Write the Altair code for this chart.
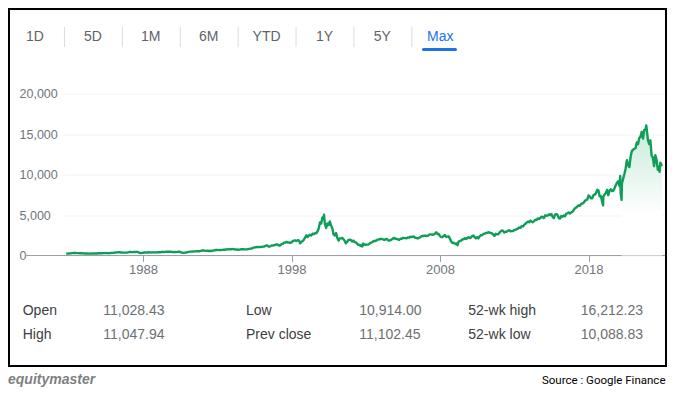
import altair as alt
import pandas as pd

# ---- data (approx. monthly levels of the index) ----
v1980s = [240, 232,
          248, 260, 270, 293, 308, 318, 303, 292, 296, 276, 285, 279,
          268, 250, 250, 247, 232, 239, 230, 255, 250, 247, 242, 247,
          278, 285, 279, 280, 290, 296, 301, 298, 280, 292, 313, 325,
          335, 359, 375, 383, 400, 405, 371, 381, 350, 361, 360, 349,
          392, 425, 430, 418, 416, 424, 434, 454, 444, 323, 305, 330,
          345, 367, 374, 379, 371, 395, 387, 376, 387, 382, 371, 381,
          401, 399, 406, 428, 446, 435, 453, 469, 472, 455, 455, 454]
v1990s = [416, 425, 435, 420, 458, 462, 438, 381, 344, 329, 359, 374,
          414, 453, 482, 484, 506, 475, 502, 525, 527, 542, 523, 586,
          620, 633, 603, 578, 585, 563, 580, 563, 583, 605, 652, 677,
          696, 670, 690, 661, 700, 704, 705, 743, 763, 779, 754, 777,
          800, 793, 744, 733, 735, 706, 722, 765, 764, 777, 750, 752,
          756, 793, 817, 843, 865, 933, 1001, 1020, 1044, 1036, 1059, 1052,
          1060, 1100, 1101, 1191, 1243, 1185, 1081, 1142, 1227, 1222, 1293, 1291,
          1380, 1309, 1222, 1261, 1400, 1442, 1594, 1587, 1686, 1594, 1601, 1570,
          1619, 1771, 1835, 1868, 1779, 1895, 1873, 1499, 1694, 1771, 1950, 2193,
          2506, 2288, 2461, 2543, 2471, 2686, 2638, 2739, 2746, 2966, 3336, 4069]
v2000s = [3940, 4697, 4573, 3861, 3401, 3966, 3767, 4206, 3673, 3370, 2598, 2471,
          2773, 2152, 1840, 2116, 2110, 2161, 2027, 1805, 1499, 1690, 1931, 1950,
          1930, 1730, 1845, 1688, 1615, 1463, 1328, 1314, 1172, 1329, 1479, 1335,
          1320, 1337, 1341, 1464, 1595, 1623, 1735, 1810, 1786, 1932, 1960, 2003,
          2066, 2029, 1994, 1920, 1987, 2048, 1887, 1838, 1897, 1975, 2096, 2175,
          2062, 2051, 1999, 1921, 2068, 2057, 2185, 2152, 2151, 2120, 2232, 2205,
          2306, 2281, 2340, 2322, 2179, 2172, 2091, 2184, 2258, 2367, 2432, 2415,
          2463, 2416, 2422, 2525, 2605, 2603, 2546, 2596, 2701, 2859, 2661, 2652,
          2389, 2271, 2279, 2413, 2523, 2293, 2326, 2368, 2092, 1721, 1536, 1577,
          1476, 1378, 1529, 1717, 1774, 1835, 1979, 2009, 2122, 2045, 2145, 2269]
v2010s = [2147, 2238, 2398, 2461, 2257, 2109, 2255, 2114, 2369, 2507, 2498, 2653,
          2700, 2782, 2781, 2874, 2835, 2774, 2756, 2579, 2415, 2684, 2620, 2605,
          2814, 2967, 3092, 3046, 2827, 2935, 2940, 3067, 3116, 2977, 3010, 3020,
          3142, 3160, 3268, 3329, 3456, 3403, 3626, 3590, 3771, 3920, 4060, 4177,
          4104, 4308, 4199, 4115, 4243, 4408, 4370, 4580, 4493, 4631, 4792, 4736,
          4635, 4964, 4901, 4941, 5070, 4987, 5128, 4777, 4620, 5054, 5109, 5007,
          4614, 4558, 4870, 4775, 4948, 4843, 5162, 5213, 5312, 5189, 5324, 5383,
          5615, 5825, 5912, 6048, 6199, 6140, 6348, 6429, 6496, 6728, 6874, 6903,
          7411, 7273, 7063, 7066, 7442, 7510, 7672, 8110, 8046, 7306, 7331, 6635,
          7282, 7533, 7729, 8095, 7453, 8006, 8175, 7963, 7999, 8292, 8665, 8973]
v2020s = [9151, 8567, 7700, 8890, 9490, 10058, 10745, 11775, 11168, 10912, 12199, 12888,
          13071, 13192, 13247, 13962, 13749, 14504, 14673, 15259, 14449, 15498, 15538, 15645,
          14240, 13751, 14221, 12335, 12081, 11029, 12391, 11816, 10576, 10988, 11468]

extreme_dates = ["2000-03-10", "2002-10-09", "2009-03-09", "2018-12-24",
                 "2020-02-19", "2020-03-23", "2021-11-19", "2022-10-14", "2022-12-12"]
extreme_values = [5048, 1114, 1268, 6193, 9817, 6860, 16057, 10321, 11040]

y_ticks = [0, 5000, 10000, 15000, 20000]
x_tick_years = [1988, 1998, 2008, 2018]

tabs = ["1D", "5D", "1M", "6M", "YTD", "1Y", "5Y", "Max"]
stat_labels = ["Open", "High", "Low", "Prev close", "52-wk high", "52-wk low"]
stat_values = ["11,028.43", "11,047.94", "10,914.00", "11,102.45", "16,212.23", "10,088.83"]
brand = "equitymaster"
source = "Source : Google Finance"

# ---- build table ----
monthly_vals = v1980s + v1990s + v2000s + v2010s + v2020s
monthly_dates = pd.date_range("1982-11-01", periods=len(monthly_vals), freq="MS")
df = pd.concat([
    pd.DataFrame({"date": monthly_dates, "value": monthly_vals}),
    pd.DataFrame({"date": pd.to_datetime(extreme_dates), "value": extreme_values}),
]).sort_values("date").reset_index(drop=True)
area_df = df[df["date"] >= pd.Timestamp("2020-03-23")]
df["date"] = df["date"].dt.strftime("%Y-%m-%d")
area_df = area_df.assign(date=area_df["date"].dt.strftime("%Y-%m-%d"))

FONT = "Liberation Sans"
GREEN = "#0f9d58"
GRAY = "#70757a"

W, H = 603, 162
x_enc = alt.X("date:T",
              scale=alt.Scale(domain=[alt.DateTime(year=1982, month=7, date=20),
                                      alt.DateTime(year=2023, month=2, date=24)]),
              axis=alt.Axis(values=[alt.DateTime(year=y) for y in x_tick_years],
                            format="%Y", title=None, grid=False, domain=False,
                            ticks=True, tickSize=6, tickColor="#9aa0a6",
                            labelColor=GRAY, labelFont=FONT, labelFontSize=13,
                            labelPadding=2))
y_enc = alt.Y("value:Q",
              scale=alt.Scale(domain=[0, 20000], nice=False),
              axis=alt.Axis(values=y_ticks, format=",.0f", title=None, grid=True,
                            gridColor="#f1f3f4", domain=False, ticks=False, tickSize=0,
                            labelAlign="left", labelPadding=43, labelColor=GRAY,
                            labelFont=FONT, labelFontSize=12.5))

one = pd.DataFrame({"k": [0]})
layers = []

# outer box
layers.append(alt.Chart(one).mark_rect(fillOpacity=0, stroke="#000", strokeWidth=2).encode(
    x=alt.value(-53), x2=alt.value(604), y=alt.value(-84.5), y2=alt.value(272.5)))

# baseline
layers.append(alt.Chart(one).mark_rule(color="#9aa0a6", strokeWidth=1.2).encode(
    x=alt.value(-37), x2=alt.value(W), y=alt.value(H)))

# gradient area (recent period)
grad = alt.Gradient(gradient="linear",
                    stops=[alt.GradientStop(color="#c6ebd8", offset=0),
                           alt.GradientStop(color="#ffffff", offset=0.68)],
                    x1=0, x2=0, y1=0, y2=1)
layers.append(alt.Chart(area_df).mark_area(fill=grad, opacity=1).encode(
    x=x_enc, y=y_enc, y2=alt.datum(0)))

# line
layers.append(alt.Chart(df).mark_line(color=GREEN, strokeWidth=2.4, strokeJoin="round").encode(
    x=x_enc, y=y_enc))

# tabs
tab_x0, tab_step = -27, 57.9
for i, t in enumerate(tabs):
    col = "#1a73e8" if t == "Max" else "#5f6368"
    layers.append(alt.Chart(one).mark_text(text=t, font=FONT, fontSize=14, color=col,
                                           align="center", baseline="middle").encode(
        x=alt.value(tab_x0 + i * tab_step), y=alt.value(-56.5)))
    if i < len(tabs) - 1:
        layers.append(alt.Chart(one).mark_rule(color="#dadce0", strokeWidth=1).encode(
            x=alt.value(tab_x0 + (i + 0.5) * tab_step + 0.5), y=alt.value(-66.5), y2=alt.value(-46.5)))
layers.append(alt.Chart(one).mark_rule(color="#1a73e8", strokeWidth=3, strokeCap="round").encode(
    x=alt.value(361.5), x2=alt.value(393.5), y=alt.value(-44)))

# stats table
label_cols = [-39.3, 184, 406.3]
value_cols = [41.3, 297.3, 518.7]
rows = [217.5, 241.5]
for i, (lab, val) in enumerate(zip(stat_labels, stat_values)):
    c, r = i // 2, i % 2
    layers.append(alt.Chart(one).mark_text(text=lab, font=FONT, fontSize=14, color="#3c4043",
                                           align="left", baseline="middle").encode(
        x=alt.value(label_cols[c]), y=alt.value(rows[r])))
    layers.append(alt.Chart(one).mark_text(text=val, font=FONT, fontSize=14, color="#6b6f73",
                                           align="left", baseline="middle").encode(
        x=alt.value(value_cols[c]), y=alt.value(rows[r])))

# footer
layers.append(alt.Chart(one).mark_text(text=brand, font=FONT, fontSize=14, fontStyle="italic",
                                       fontWeight="bold", color="#7f7f7f",
                                       align="left", baseline="middle").encode(
    x=alt.value(-54), y=alt.value(286.5)))
layers.append(alt.Chart(one).mark_text(text=source, font="Roboto", fontSize=11.5, color="#000",
                                       align="right", baseline="middle").encode(
    x=alt.value(603.5), y=alt.value(287.5)))

chart = alt.layer(*layers).properties(
    width=W, height=H,
    autosize=alt.AutoSizeParams(type="none"),
    padding={"left": 54, "top": 85.5, "right": 2, "bottom": 131.5},
    background="white",
).configure_view(stroke=None)

chart.save("out.html", embed_options={"renderer": "svg", "actions": False})
